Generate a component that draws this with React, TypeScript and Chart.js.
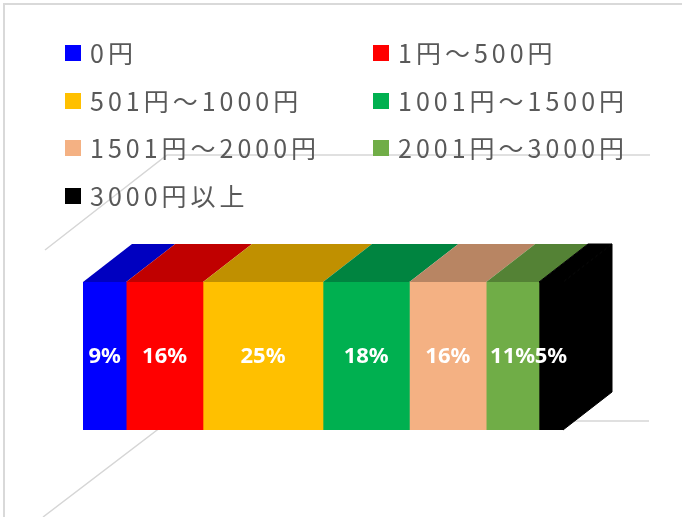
import React, { useEffect, useRef } from "react";
import { Chart, registerables } from "chart.js";

Chart.register(...registerables);

const categories = ["回答"];
const seriesLabels = [
  "0円",
  "1円〜500円",
  "501円〜1000円",
  "1001円〜1500円",
  "1501円〜2000円",
  "2001円〜3000円",
  "3000円以上",
];
const seriesValues = [9, 16, 25, 18, 16, 11, 5];
const frontColors = ["#0000FF", "#FF0000", "#FFC000", "#00B050", "#F4B183", "#70AD47", "#000000"];
const topColors = ["#0000C0", "#C00000", "#C09000", "#008440", "#B88563", "#548235", "#000000"];
const valueLabels = seriesValues.map((v) => `${v}%`);

const DEPTH_X = 49;
const DEPTH_Y = -38;

const wallPlugin = {
  id: "walls",
  beforeDraw(chart: any) {
    const ca = chart.chartArea;
    const ctx = chart.ctx;
    ctx.save();
    ctx.strokeStyle = "#D6D6D6";
    ctx.lineWidth = 1.5;
    ctx.beginPath();
    ctx.moveTo(ca.left - 38, ca.top - 32);
    ctx.lineTo(ca.left + 84, ca.top - 127);
    ctx.lineTo(ca.right + 87, ca.top - 127);
    ctx.stroke();
    ctx.beginPath();
    ctx.moveTo(ca.left - 40, ca.bottom + 87);
    ctx.lineTo(ca.left + 86, ca.bottom - 9);
    ctx.lineTo(ca.right + 86, ca.bottom - 9);
    ctx.stroke();
    ctx.restore();
  },
};

const faces3dPlugin = {
  id: "faces3d",
  afterDatasetsDraw(chart: any) {
    const ctx = chart.ctx;
    const n = chart.data.datasets.length;
    ctx.save();
    chart.data.datasets.forEach((ds: any, i: number) => {
      const meta = chart.getDatasetMeta(i);
      meta.data.forEach((el: any) => {
        const p = el.getProps(["x", "y", "base", "height"], true);
        const left = Math.min(p.base, p.x);
        const right = Math.max(p.base, p.x);
        const top = p.y - p.height / 2;
        const bottom = p.y + p.height / 2;
        ctx.fillStyle = topColors[i];
        ctx.strokeStyle = topColors[i];
        ctx.lineWidth = 1;
        if (i === n - 1) {
          ctx.beginPath();
          ctx.moveTo(right, top);
          ctx.lineTo(right + DEPTH_X, top + DEPTH_Y);
          ctx.lineTo(right + DEPTH_X, bottom + DEPTH_Y);
          ctx.lineTo(right, bottom);
          ctx.closePath();
          ctx.fill();
          ctx.stroke();
        }
        ctx.beginPath();
        ctx.moveTo(left, top);
        ctx.lineTo(right, top);
        ctx.lineTo(right + DEPTH_X, top + DEPTH_Y);
        ctx.lineTo(left + DEPTH_X, top + DEPTH_Y);
        ctx.closePath();
        ctx.fill();
        if (i === n - 1) ctx.stroke();
      });
    });
    ctx.restore();

    ctx.save();
    ctx.fillStyle = "#FFFFFF";
    ctx.font = "bold 22px 'Noto Sans', sans-serif";
    ctx.textAlign = "center";
    ctx.textBaseline = "middle";
    chart.data.datasets.forEach((ds: any, i: number) => {
      const meta = chart.getDatasetMeta(i);
      meta.data.forEach((el: any) => {
        const p = el.getProps(["x", "y", "base"], true);
        ctx.fillText(valueLabels[i], (p.x + p.base) / 2, p.y + 1);
      });
    });
    ctx.restore();
  },
};

const legendPlugin = {
  id: "gridLegend",
  afterDraw(chart: any) {
    const ctx = chart.ctx;
    const colX = [65, 373];
    const rowY = [53, 101, 148, 196];
    ctx.save();
    ctx.font = "25px 'Noto Sans CJK JP', sans-serif";
    (ctx as any).letterSpacing = "4px";
    ctx.textBaseline = "middle";
    ctx.textAlign = "left";
    chart.data.datasets.forEach((ds: any, i: number) => {
      const cx = colX[i % 2];
      const cy = rowY[Math.floor(i / 2)];
      ctx.fillStyle = frontColors[i];
      ctx.fillRect(cx, cy - 8, 16, 16);
      ctx.fillStyle = "#595959";
      ctx.fillText(ds.label, cx + 25, cy);
    });
    ctx.restore();
  },
};

export default function App() {
  const canvasRef = useRef<HTMLCanvasElement | null>(null);

  useEffect(() => {
    const canvas = canvasRef.current;
    if (!canvas) return;
    const chart = new Chart(canvas, {
      type: "bar",
      data: {
        labels: categories,
        datasets: seriesLabels.map((label, i) => ({
          label,
          data: [seriesValues[i]],
          backgroundColor: frontColors[i],
          borderWidth: 0,
          categoryPercentage: 1,
          barPercentage: 1,
        })),
      },
      options: {
        indexAxis: "y",
        responsive: false,
        animation: false,
        layout: { padding: { left: 83, right: 119, top: 282, bottom: 87 } },
        scales: {
          x: { stacked: true, min: 0, max: 100, display: false },
          y: { stacked: true, display: false },
        },
        plugins: {
          legend: { display: false },
          tooltip: { enabled: false },
        },
      },
      plugins: [wallPlugin, faces3dPlugin, legendPlugin],
    });
    return () => chart.destroy();
  }, []);

  return (
    <div style={{ position: "fixed", left: 0, top: 0, width: 682, height: 517, background: "#FFFFFF", overflow: "hidden" }}>
      <div
        style={{
          position: "absolute",
          left: 3,
          top: 3,
          width: 800,
          height: 800,
          borderTop: "2px solid #D9D9D9",
          borderLeft: "2px solid #D9D9D9",
        }}
      />
      <canvas ref={canvasRef} width={682} height={517} style={{ position: "absolute", left: 0, top: 0 }} />
    </div>
  );
}
